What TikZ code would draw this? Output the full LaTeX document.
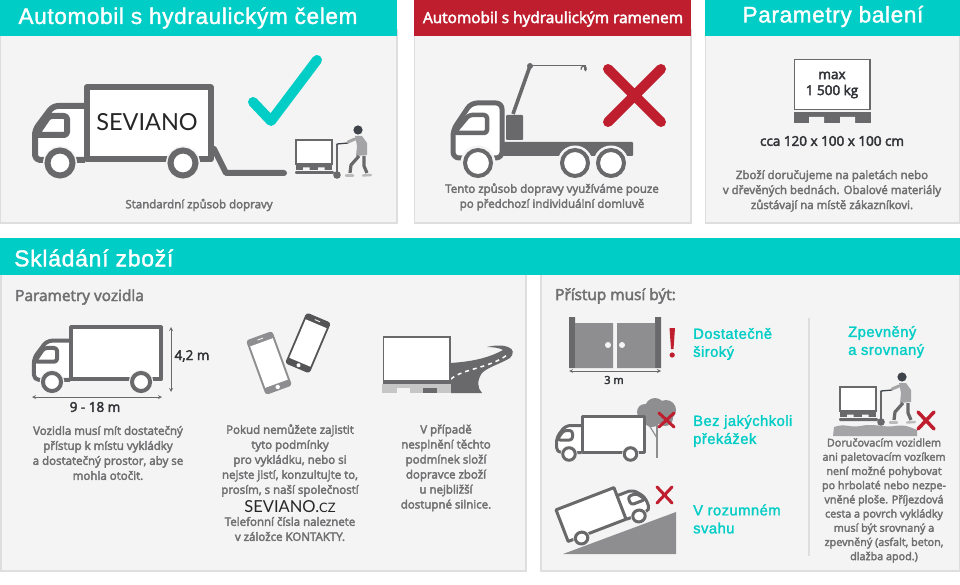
\documentclass[tikz,border=0pt]{standalone}
\usepackage{fontspec}
\setmainfont{Liberation Sans}
\newfontfamily\txtfont[FakeBold=3]{Open Sans}
\newfontfamily\headfont[LetterSpace=3,FakeBold=1.5]{Liberation Sans}
\newfontfamily\logofont{Lato}
\definecolor{teal1}{RGB}{0,205,197}
\definecolor{red1}{RGB}{190,30,45}
\definecolor{panelbg}{RGB}{244,244,244}
\definecolor{panelline}{RGB}{222,222,222}
\definecolor{iconline}{RGB}{105,105,107}
\definecolor{iconmid}{RGB}{142,142,144}
\definecolor{txtgrey}{RGB}{112,112,114}
\definecolor{txtdark}{RGB}{50,52,56}
\definecolor{mandark}{RGB}{62,68,74}
\tikzset{
  panel/.style={fill=panelbg,draw=panelline,line width=1.2pt},
  headbar/.style={fill=#1},
  headtxt/.style={text=white,font=\headfont\fontsize{#1}{#1}\selectfont,inner sep=0pt},
  bodytxt/.style={text=txtgrey,align=center,inner sep=0pt,font=\txtfont\fontsize{11.5}{15}\selectfont},
  smalltxt/.style={text=txtgrey,align=center,inner sep=0pt,font=\txtfont\fontsize{10.8}{14.2}\selectfont},
  titletxt/.style={text=txtgrey,inner sep=0pt,font=\txtfont\fontsize{15.4}{16}\selectfont},
  darktxt/.style={text=txtdark,align=center,inner sep=0pt,font=\txtfont\fontsize{#1}{16}\selectfont},
  tealtxt/.style={text=teal1,align=left,inner sep=0pt,font=\headfont\fontsize{14.8}{18}\selectfont},
  logotxt/.style={text=black!85,inner sep=0pt,font=\logofont\fontsize{#1}{#1}\selectfont},
  redcross/.style={draw=red1,line width=#1,line cap=round},
  dimline/.style={draw=iconline,line width=0.8pt,<->},
}
\newcommand{\boxtruck}[1]{
  \draw[draw=iconline,fill=white,line width=#1,line join=round,rounded corners=5pt]
    (52,22) -- (20,22) -- (2,46) -- (2,76) -- (52,76);
  \draw[draw=iconline,line width=#1,line join=round,rounded corners=3pt] (3,51) -- (16,32) -- (34,32) -- (34,51) -- cycle;
  \draw[draw=iconline,fill=white,line width=#1,line join=round] (53.5,3.5) rectangle (177.5,75.5);
  \foreach \wx in {27,150} {
    \fill[panelbg] (\wx,79) circle[radius=17];
    \draw[draw=iconline,fill=white,line width=#1] (\wx,79) circle[radius=12.5];
  }
}
\newcommand{\palletman}{
  \draw[draw=iconline,fill=white,line width=1.3pt] (-41,-34) rectangle (-5,-10);
  \fill[iconline] (-41,-9) rectangle (-5,-4);
  \fill[panelbg] (-34,-6.5) rectangle (-27.5,-4) (-19,-6.5) rectangle (-12.5,-4);
  \fill[iconline,rounded corners=1pt] (-42,-2.8) rectangle (-3,0);
  \draw[draw=iconline,line width=1.7pt] (0,0) -- (0,-30);
  \fill[iconline] (0,1) circle[radius=3.8];
  \draw[draw=mandark,line width=1.3pt,line cap=round] (0,-30) -- (11,-31);
  \draw[draw=iconmid!80,line width=3pt,line cap=round] (11,-32) -- (18,-35);
  \fill[iconmid!80] (18,-38) -- (25,-38) -- (30,-31) -- (30,-19) -- (19,-18) -- (20,-28) -- cycle;
  \draw[draw=iconline,line width=3.2pt,line join=round] (22,-18) -- (14,-9) -- (13,-1);
  \draw[draw=iconline,line width=3.2pt,line join=round] (27,-18) -- (27,-8) -- (30,-1);
  \draw[draw=iconmid!60,line width=2.4pt,line cap=round] (9,1.5) -- (16,1.5);
  \draw[draw=iconmid!60,line width=2.4pt,line cap=round] (26,1.5) -- (34,1);
  \fill[mandark] (21,-44) circle[radius=4.6];
}
\newcommand{\phone}[1]{
  \fill[#1,rounded corners=3pt] (-14,-29) rectangle (14,29);
  \fill[white] (-12,-22) rectangle (12,22);
  \fill[white] (0,25.5) circle[radius=2.2];
  \draw[white,line width=0.8pt] (-3,-25.5) -- (3,-25.5);
}
\begin{document}
\begin{tikzpicture}[x=1pt,y=-1pt,>=stealth]
  \useasboundingbox (0,0) rectangle (960,585);
  \fill[white] (0,0) rectangle (960,585);

  % top panels
  \draw[panel] (0.6,30) rectangle (397,223);
  \draw[panel] (414.6,30) rectangle (691,223);
  \draw[panel] (705.6,30) rectangle (959.4,223);
  \fill[headbar=teal1] (0,0) rectangle (397,36);
  \fill[headbar=red1] (414,0) rectangle (691,36);
  \fill[headbar=teal1] (705,0) rectangle (960,36);
  \node (h1) at (188,18) [headtxt=22.5] {Automobil s hydraulickým čelem};
  \node (h2) at (553,19) [headtxt=14,font=\txtfont\fontsize{15.4}{14}\selectfont] {Automobil s hydraulickým ramenem};
  \node (h3) at (833,16.5) [headtxt=22.5] {Parametry balení};

  % lower panels
  \draw[panel] (1,270) rectangle (526,571);
  \draw[panel] (541,270) rectangle (959.4,571);
  \fill[headbar=teal1] (0,238) rectangle (960,275);
  \node (h4) at (14,258) [headtxt=23,anchor=west] {Skládání zboží};
  \node (t1) at (15,297) [titletxt,anchor=west] {Parametry vozidla};
  \node (t2) at (555,296) [titletxt,anchor=west] {Přístup musí být:};
  \draw[draw=panelline,line width=2.5pt] (809,318) -- (809,556);

  % truck with tail lift
  \begin{scope}[shift={(60,163)},shift={(-27,-79)}]
    \boxtruck{6pt}
  \end{scope}
  \draw[draw=iconline,line width=6pt,line cap=round,line join=round] (214,149) -- (226,173) -- (284,173);
  \node (l1) at (147,122) [logotxt=23.5] {SEVIANO};
  \draw[draw=teal1,line width=10pt,line cap=round,line join=round] (253,102) -- (271,121) -- (317,60);
  \begin{scope}[shift={(337,174)}]
    \palletman
  \end{scope}
  \node (c1) at (199,205) [bodytxt] {Standardní způsob dopravy};

  % truck with crane
  \fill[iconline,rounded corners=1pt] (503,142) rectangle (633,156);
  \draw[draw=iconline,fill=white,line width=5pt,line join=round,rounded corners=6pt] (502,103) -- (471,103) -- (453,130) -- (453,158) -- (502,158) -- cycle;
  \draw[draw=iconline,line width=4.5pt,line join=round,rounded corners=3pt] (454,133) -- (469,115) -- (487,115) -- (487,133) -- cycle;
  \fill[iconline,rounded corners=1pt] (506,115) rectangle (523,140);
  \draw[draw=iconline,line width=3.6pt] (513,114) -- (530,66);
  \fill[iconline] (530,66) circle[radius=3];
  \draw[draw=iconline,line width=1.8pt] (530,65.5) -- (585,65.5) -- (585,70);
  \draw[draw=iconline,line width=1.2pt] (585,71) arc[start angle=60,end angle=-200,radius=2.6];
  \foreach \wx in {478,575,611} {
    \fill[panelbg] (\wx,163) circle[radius=17.5];
    \draw[draw=iconline,fill=white,line width=4pt] (\wx,163) circle[radius=13];
  }
  \draw[redcross=10pt] (608,69) -- (661,122) (661,69) -- (608,122);
  \node (c2) at (552,197) [bodytxt] {Tento způsob dopravy využíváme pouze\\po předchozí individuální domluvě};

  % package limits
  \draw[draw=iconline,fill=white,line width=1.5pt] (794.7,59.7) rectangle (870,109.5);
  \fill[iconline] (794,112) rectangle (871,123);
  \fill[panelbg] (809,117) rectangle (824,123) (840,117) rectangle (855,123);
  \node (m1) at (832,85) [darktxt=13.5,text=txtdark] {max\\1 500 kg};
  \node (m2) at (832,141) [darktxt=13.5] {cca 120 x 100 x 100 cm};
  \node (c3) at (832,191) [bodytxt] {Zboží doručujeme na paletách nebo\\v dřevěných bednách. Obalové materiály\\zůstávají na místě zákazníkovi.};

  % vehicle dimensions
  \begin{scope}[shift={(52,382)},scale=0.724,shift={(-27,-79)}]
    \boxtruck{4pt}
  \end{scope}
  \coordinate (d1) at (32,397);
  \coordinate (d2) at (162,397);
  \coordinate (d3) at (171,327);
  \coordinate (d4) at (171,392);
  \draw[dimline] (d1) -- (d2);
  \draw[dimline] (d3) -- (d4);
  \node (d5) at (95,407) [darktxt=13.5] {9 - 18 m};
  \node (d6) at (192,356) [darktxt=13.5] {4,2 m};
  \node (c4) at (108,453) [bodytxt] {Vozidla musí mít dostatečný\\přístup k místu vykládky\\a dostatečný prostor, aby se\\mohla otočit.};

  % phones
  \begin{scope}[shift={(269,363)},rotate=20]
    \phone{iconmid}
  \end{scope}
  \begin{scope}[shift={(308,343)},rotate=-23,scale=0.95]
    \phone{iconline!80!black}
  \end{scope}
  \node (c5) at (290,460.5) [bodytxt] {Pokud nemůžete zajistit\\tyto podmínky\\pro vykládku, nebo si\\nejste jistí, konzultujte to,\\prosím, s naší společností};
  \node (l2) at (290,507) [logotxt=16.5] {SEVIANO.{\fontsize{13}{13}\selectfont CZ}};
  \node (c6) at (290,529) [bodytxt] {Telefonní čísla naleznete\\v záložce KONTAKTY.};

  % pallet on the road
  \fill[iconline] (450,363) .. controls (465,362) and (485,360) .. (503,350) .. controls (500,348) and (493,347) .. (487,347)
    .. controls (495,345) and (504,345) .. (508,347) .. controls (514,349) and (514,354) .. (510,358)
    .. controls (500,364) and (488,367) .. (482,373) .. controls (477,380) and (477,388) .. (482,393) -- (451,393) -- cycle;
  \draw[white,line width=1.5pt,dash pattern=on 4pt off 4pt] (451,379) .. controls (462,369) and (490,368) .. (507,355);
  \draw[draw=iconline,fill=white,line width=1.3pt] (383.6,337) rectangle (450,381);
  \fill[iconline] (383,381.7) rectangle (451,384);
  \fill[iconmid!50] (382,384) rectangle (451,393);
  \fill[panelbg] (397,387.5) rectangle (410,393);
  \fill[iconline] (423,387.5) rectangle (437,393);
  \node (c7) at (446,468) [bodytxt] {V případě\\nesplnění těchto\\podmínek složí\\dopravce zboží\\u nejbližší\\dostupné silnice.};

  % gate
  \fill[iconline] (569,317) rectangle (575,368) (655,317) rectangle (661,368);
  \fill[iconmid] (575,323) rectangle (613,368) (617,323) rectangle (655,368);
  \fill[panelbg] (608,345) circle[radius=3] (622,345) circle[radius=3];
  \coordinate (g1) at (569,371);
  \coordinate (g2) at (661,371);
  \draw[dimline] (g1) -- (g2);
  \node (g3) at (614,380) [darktxt=11] {3 m};
  \fill[red1] (669.5,328) -- (675,328) -- (673.5,349) -- (671,349) -- cycle;
  \fill[red1] (672.2,355) circle[radius=2.6];
  \node (q1) at (693,344) [tealtxt,anchor=west] {Dostatečně\\široký};

  % tree in the way
  \fill[iconmid] (655,408) circle[radius=10] (645,412) circle[radius=8] (666,410) circle[radius=10] (652,418) circle[radius=9] (665,418) circle[radius=8];
  \draw[draw=iconmid,line width=2.5pt] (657,458) -- (657,420);
  \draw[draw=iconmid,line width=1.2pt] (657,438) -- (649,425);
  \begin{scope}[shift={(569,454)},scale=0.5,shift={(-27,-79)}]
    \boxtruck{3pt}
  \end{scope}
  \draw[redcross=3pt] (659,413) -- (674,427) (674,413) -- (659,427);
  \node (q2) at (693,431) [tealtxt,anchor=west] {Bez jakýchkoli\\překážek};

  % slope
  \fill[iconmid] (563,554) -- (676,512) -- (676,554) -- cycle;
  \begin{scope}[shift={(639,516)},rotate=21,xscale=-0.5,yscale=0.47,shift={(-27,-79)}]
    \boxtruck{3pt}
  \end{scope}
  \draw[redcross=3pt] (657,487) -- (672,503) (672,487) -- (657,503);
  \node (q3) at (693,519) [tealtxt,anchor=west] {V rozumném\\svahu};

  % rough ground
  \node (q4) at (848,342) [tealtxt,anchor=west] {Zpevněný\\ a srovnaný};
  \fill[iconmid!80] (833,436) -- (834,427) .. controls (845,423) and (850,428) .. (860,426) .. controls (875,423) and (885,428) .. (895,426) .. controls (905,424) and (912,428) .. (917,430) -- (917,436) -- cycle;
  \begin{scope}[shift={(881,421)}]
    \palletman
  \end{scope}
  \draw[redcross=3.5pt] (918,412) -- (934,429) (934,412) -- (918,429);
  \node (c8) at (884,500.5) [smalltxt] {Doručovacím vozidlem\\ani paletovacím vozíkem\\není možné pohybovat\\po hrbolaté nebo nezpe-\\vněné ploše. Příjezdová\\cesta a povrch vykládky\\musí být srovnaný a\\zpevněný (asfalt, beton,\\dlažba apod.)};
\end{tikzpicture}
\end{document}
